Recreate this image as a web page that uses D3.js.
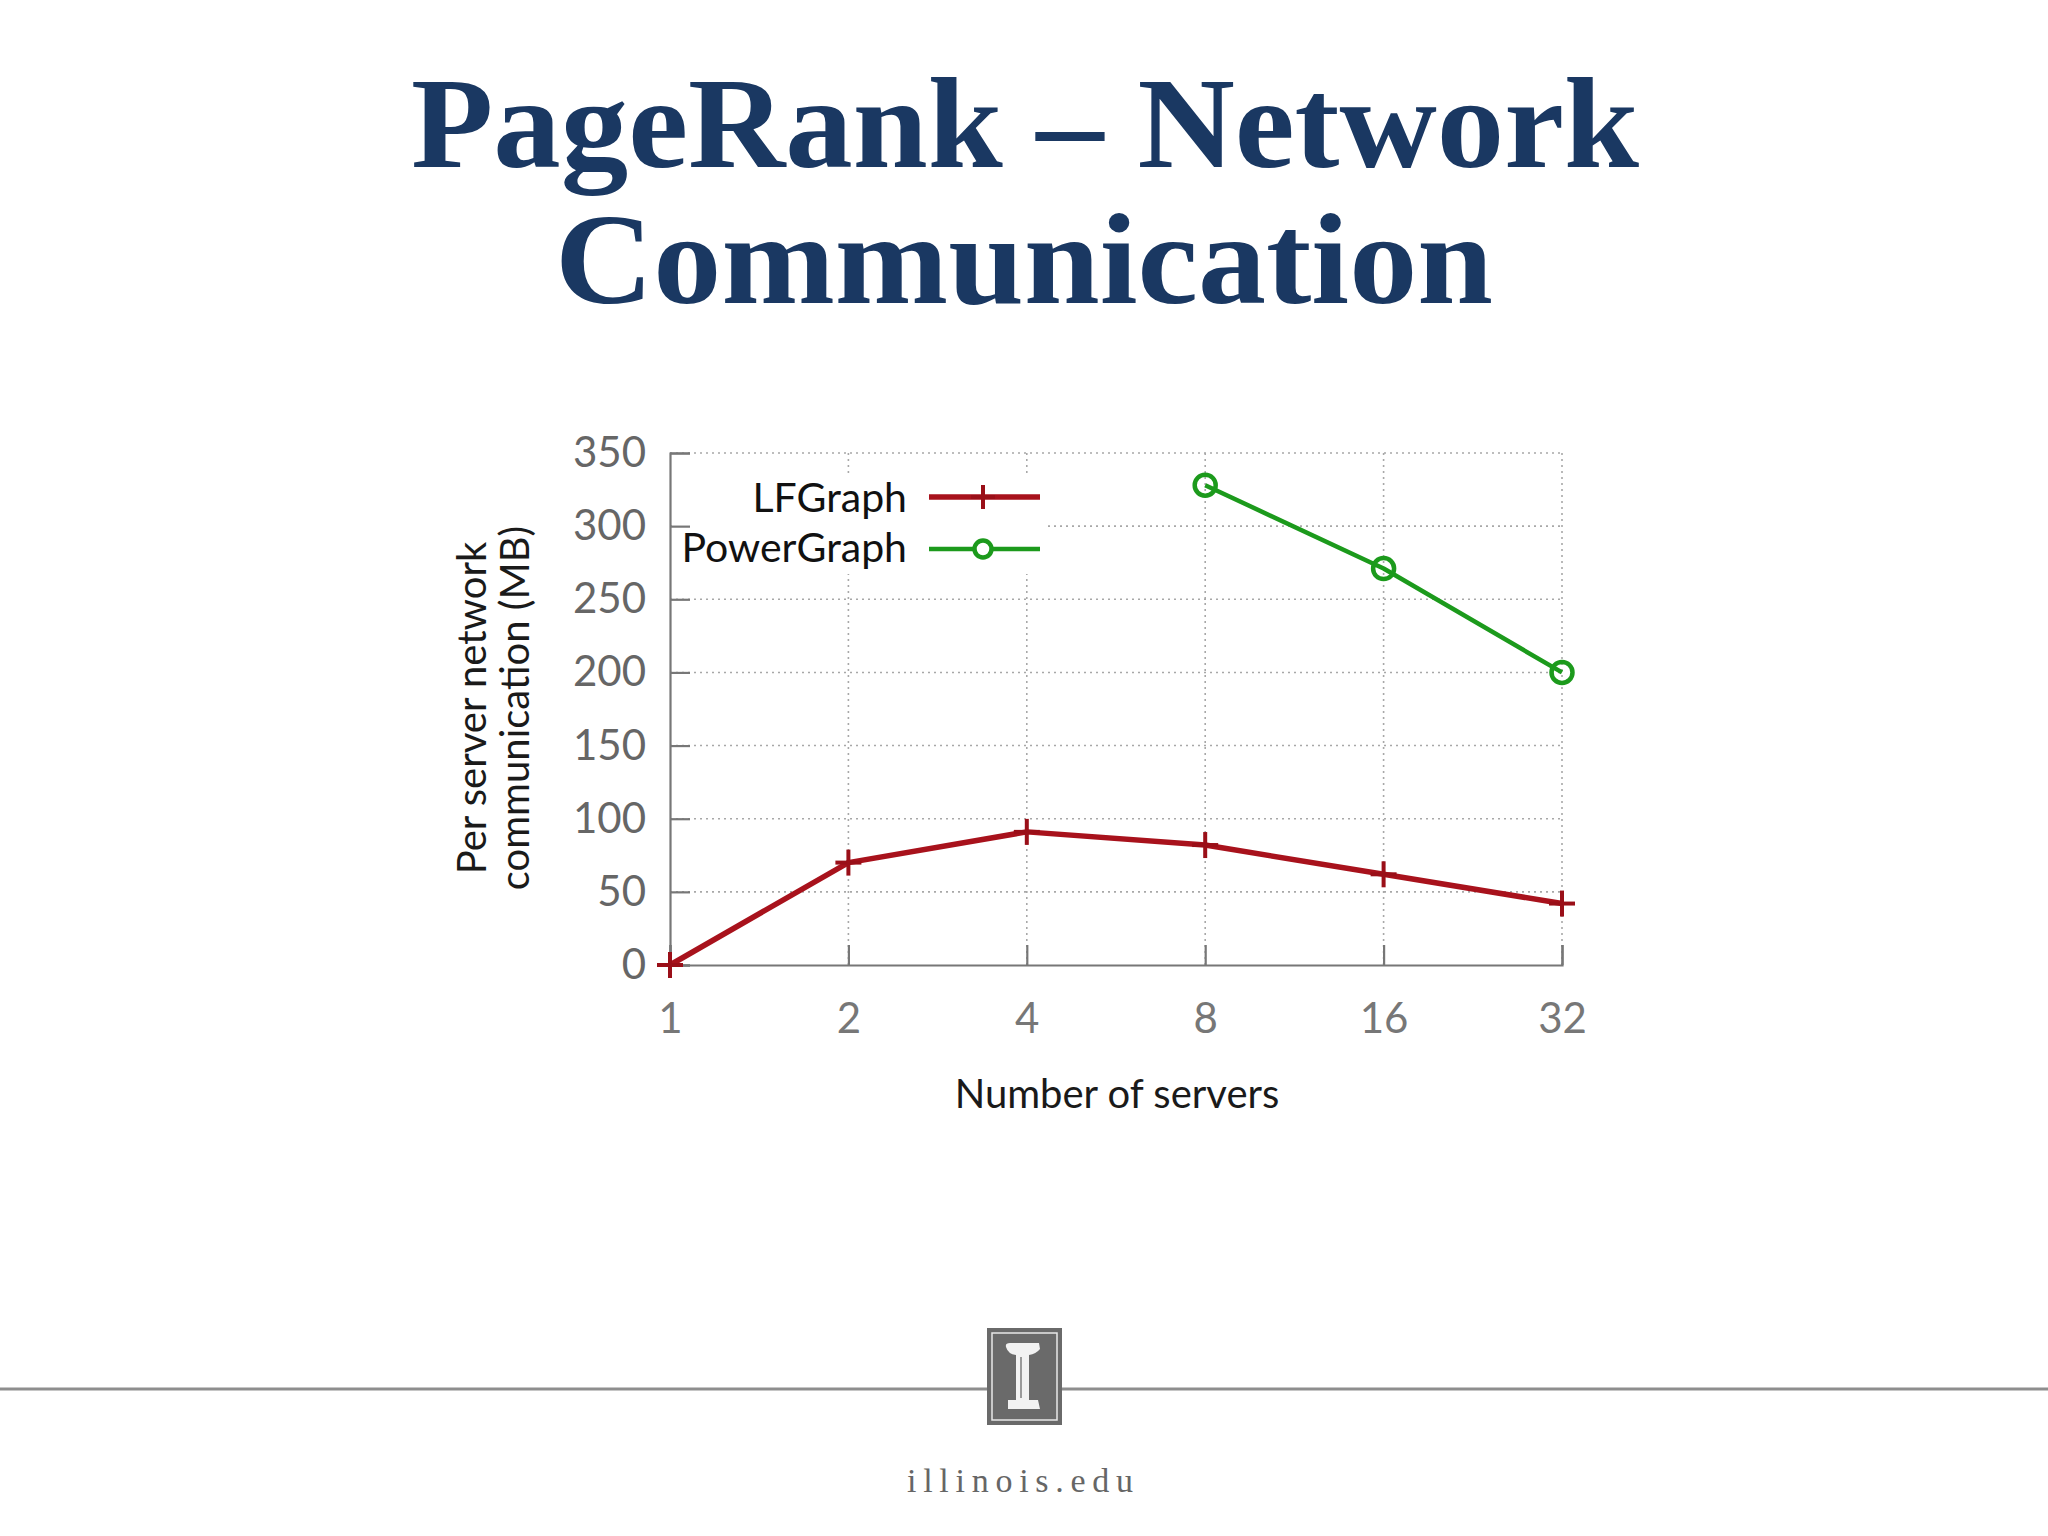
<!DOCTYPE html>
<html>
<head>
<meta charset="utf-8">
<script src="https://cdn.jsdelivr.net/npm/d3@7"></script>
<style>
  html, body { margin: 0; padding: 0; background: #ffffff; }
  svg { display: block; }
</style>
</head>
<body>
<svg id="chart" width="2048" height="1536"></svg>
<script>
// ---- data ----
const servers = [1, 2, 4, 8, 16, 32];
const lfgraph = [0, 70, 91, 82, 62, 42];
const powergraph = [null, null, null, 328, 271, 200];
const yTicks = [0, 50, 100, 150, 200, 250, 300, 350];
const xTickLabels = ["1", "2", "4", "8", "16", "32"];
const seriesNames = ["LFGraph", "PowerGraph"];
const titleLines = ["PageRank \u2013 Network", "Communication"];

const svg = d3.select("#chart");
svg.append("rect").attr("width", 2048).attr("height", 1536).attr("fill", "#ffffff");

// ---- title ----
const titleColor = "#1a3862";
svg.append("text").text(titleLines[0])
  .attr("x", 411).attr("y", 167)
  .attr("textLength", 1228).attr("lengthAdjust", "spacingAndGlyphs")
  .attr("font-family", "Liberation Serif, DejaVu Serif, serif")
  .attr("font-weight", "bold").attr("font-size", 130).attr("fill", titleColor);
svg.append("text").text(titleLines[1])
  .attr("x", 555).attr("y", 303)
  .attr("textLength", 938).attr("lengthAdjust", "spacingAndGlyphs")
  .attr("font-family", "Liberation Serif, DejaVu Serif, serif")
  .attr("font-weight", "bold").attr("font-size", 130).attr("fill", titleColor);

// ---- scales ----
const x = d3.scaleLog().base(2).domain([1, 32]).range([670, 1562]);
const y = d3.scaleLinear().domain([0, 350]).range([965, 453]);

const font = "Lato, 'Open Sans', sans-serif";
const g = svg.append("g");

// grid
g.append("g").selectAll("line").data(yTicks.filter(d => d > 0)).join("line")
  .attr("x1", x(1)).attr("x2", x(32))
  .attr("y1", d => y(d)).attr("y2", d => y(d))
  .attr("stroke", "#a8a8a8").attr("stroke-width", 1.6).attr("stroke-dasharray", "2,4");
g.append("g").selectAll("line").data(servers.slice(1)).join("line")
  .attr("x1", d => x(d)).attr("x2", d => x(d))
  .attr("y1", y(0)).attr("y2", y(350))
  .attr("stroke", "#a8a8a8").attr("stroke-width", 1.6).attr("stroke-dasharray", "2,4");

// legend background (covers grid)
g.append("rect").attr("x", 672).attr("y", 474).attr("width", 374).attr("height", 100).attr("fill", "#ffffff");

// axes
const yAxis = d3.axisLeft(y).tickValues(yTicks).tickSize(-20).tickPadding(24).tickFormat(d3.format("d"));
const yg = g.append("g").attr("transform", `translate(${x(1)},0)`).call(yAxis);
yg.select(".domain").attr("stroke", "#777").attr("stroke-width", 2.2);
yg.selectAll(".tick line").attr("stroke", "#777").attr("stroke-width", 2.2);
yg.selectAll(".tick text").attr("font-family", font).attr("font-size", 42).attr("fill", "#666");

const xAxis = d3.axisBottom(x).tickValues(servers).tickSize(-20).tickPadding(38)
  .tickFormat((d, i) => xTickLabels[i]);
const xg = g.append("g").attr("transform", `translate(0,${y(0)})`).call(xAxis);
xg.select(".domain").attr("stroke", "#777").attr("stroke-width", 2.2);
xg.selectAll(".tick line").attr("stroke", "#777").attr("stroke-width", 2.2);
xg.selectAll(".tick text").attr("font-family", font).attr("font-size", 42).attr("fill", "#777");

// axis titles
svg.append("text").text("Number of servers")
  .attr("x", 1117).attr("y", 1108).attr("text-anchor", "middle")
  .attr("font-family", font).attr("font-size", 40).attr("fill", "#1a1a1a");
svg.append("text").text("Per server network")
  .attr("transform", "translate(486,708) rotate(-90)").attr("text-anchor", "middle")
  .attr("font-family", font).attr("font-size", 40).attr("fill", "#1a1a1a");
svg.append("text").text("communication (MB)")
  .attr("transform", "translate(529,708) rotate(-90)").attr("text-anchor", "middle")
  .attr("font-family", font).attr("font-size", 40).attr("fill", "#1a1a1a");

// ---- series ----
const lfColor = "#a8121c", pgColor = "#1c9a1c";
const lfData = servers.map((s, i) => ({ s, v: lfgraph[i] }));
const pgData = servers.map((s, i) => ({ s, v: powergraph[i] })).filter(d => d.v !== null);
const line = d3.line().x(d => x(d.s)).y(d => y(d.v));

g.append("path").datum(lfData).attr("d", line).attr("fill", "none")
  .attr("stroke", lfColor).attr("stroke-width", 5.5).attr("stroke-linejoin", "round");
const plus = (sel, color, size) => {
  sel.append("line").attr("x1", -size).attr("x2", size).attr("stroke", color).attr("stroke-width", 4);
  sel.append("line").attr("y1", -size).attr("y2", size).attr("stroke", color).attr("stroke-width", 4);
};
g.append("g").selectAll("g").data(lfData).join("g")
  .attr("transform", d => `translate(${x(d.s)},${y(d.v)})`)
  .each(function() { plus(d3.select(this), "#9a0f18", 13); });

g.append("path").datum(pgData).attr("d", line).attr("fill", "none")
  .attr("stroke", pgColor).attr("stroke-width", 4.5).attr("stroke-linejoin", "round");
g.append("g").selectAll("circle").data(pgData).join("circle")
  .attr("cx", d => x(d.s)).attr("cy", d => y(d.v)).attr("r", 10.5)
  .attr("fill", "none").attr("stroke", pgColor).attr("stroke-width", 4.5);

// ---- legend ----
const legend = g.append("g");
const legendRows = [
  { name: seriesNames[0], color: lfColor, y: 497, base: 512 },
  { name: seriesNames[1], color: pgColor, y: 549, base: 562 }
];
legendRows.forEach((r, i) => {
  legend.append("text").text(r.name).attr("x", 907).attr("y", r.base)
    .attr("text-anchor", "end").attr("font-family", font).attr("font-size", 41).attr("fill", "#111");
  legend.append("line").attr("x1", 929).attr("x2", 1040).attr("y1", r.y).attr("y2", r.y)
    .attr("stroke", r.color).attr("stroke-width", i === 0 ? 5.5 : 4.5);
  if (i === 0) {
    const m = legend.append("g").attr("transform", `translate(983,${r.y})`);
    plus(m, "#9a0f18", 12);
  } else {
    legend.append("circle").attr("cx", 983).attr("cy", r.y).attr("r", 8.5)
      .attr("fill", "#fff").attr("stroke", r.color).attr("stroke-width", 4.5);
  }
});

// ---- footer ----
svg.append("line").attr("x1", 0).attr("x2", 2048).attr("y1", 1389).attr("y2", 1389)
  .attr("stroke", "#8e8e8e").attr("stroke-width", 3);
const logo = svg.append("g");
logo.append("rect").attr("x", 987).attr("y", 1328).attr("width", 75).attr("height", 97).attr("fill", "#6a6a6a");
logo.append("rect").attr("x", 992).attr("y", 1333).attr("width", 65).attr("height", 87)
  .attr("fill", "none").attr("stroke", "#e8e8e8").attr("stroke-width", 1.5);
logo.append("path")
  .attr("d", "M1006,1347 Q1005,1343 1010,1343 L1039,1343 L1040,1349 Q1036,1354 1029,1355 L1029,1400 L1038,1400 L1040,1409 L1008,1409 L1008,1400 L1016,1400 L1016,1355 Q1008,1354 1006,1347 Z")
  .attr("fill", "#f2f2f2");
logo.append("line").attr("x1", 1021).attr("x2", 1021).attr("y1", 1357).attr("y2", 1398)
  .attr("stroke", "#9a9a9a").attr("stroke-width", 2);
svg.append("text").text("illinois.edu")
  .attr("x", 1020).attr("y", 1492).attr("text-anchor", "middle")
  .attr("textLength", 226).attr("lengthAdjust", "spacing")
  .attr("font-family", "Liberation Serif, serif").attr("font-size", 34).attr("fill", "#666666");
</script>
</body>
</html>
